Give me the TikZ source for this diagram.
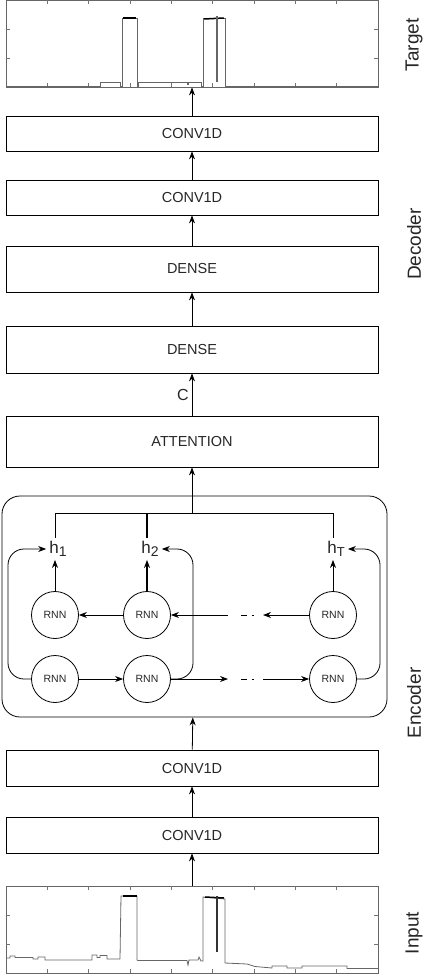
\documentclass[tikz,border=0pt]{standalone}
\usepackage{fontspec}
\setmainfont{Liberation Sans}
\usetikzlibrary{arrows.meta}
\begin{document}
\begin{tikzpicture}[x=1pt,y=-1pt,
  layer/.style={draw, line width=0.8pt, minimum width=372pt, inner sep=0pt, text=black!85, font=\fontsize{14.5}{16}\selectfont},
  plotbox/.style={draw=black!60, line width=0.8pt, minimum width=372pt, minimum height=87pt, inner sep=0pt},
  rnn/.style={draw, circle, line width=0.8pt, minimum size=47pt, inner sep=0pt, text=black!85, font=\fontsize{10.5}{12}\selectfont},
  hl/.style={inner sep=3pt, text=black!85, font=\fontsize{17}{18}\selectfont},
  arr/.style={-{Stealth[length=8pt,width=6pt]}, line width=0.8pt},
  side/.style={rotate=90, text=black!85, font=\fontsize{19}{20}\selectfont},
  tick/.style={draw=black!55, line width=0.6pt},
  sig/.style={draw=black!60, line width=0.8pt},
  pulsetop/.style={draw=black, line width=1.5pt}]
\useasboundingbox (0,0) rectangle (430,974);

% ---------- plots ----------
\node[plotbox] (tgt) at (192,43.5) {};
\node[plotbox] (inp) at (192,929.5) {};
\foreach \k in {1,...,8}{
  \draw[tick] ({6+41.33*\k},87) -- ++(0,-4);
  \draw[tick] ({6+41.33*\k},0) -- ++(0,4);
  \draw[tick] ({6+41.33*\k},973) -- ++(0,-4);
  \draw[tick] ({6+41.33*\k},886) -- ++(0,4);
}
\foreach \yy in {29,58}{
  \draw[tick] (6,\yy) -- ++(4,0);
  \draw[tick] (378,\yy) -- ++(-4,0);
}
\foreach \yy in {915,944}{
  \draw[tick] (6,\yy) -- ++(4,0);
  \draw[tick] (378,\yy) -- ++(-4,0);
}
% target signal
\draw[sig] (6,86.5) -- (100,86.5) -- (100,82) -- (120,82) -- (120,86.5) -- (122,86.5) -- (122,18.5) -- (137,18.5) -- (137,86.5) -- (138,86.5) -- (138,82) -- (187,82) -- (187,84) -- (188,84) -- (188,82) -- (201,82) -- (201,86.5) -- (203,86.5) -- (203,18) -- (225,18) -- (225,86.5) -- (378,86.5);
\draw[pulsetop] (123,18) -- (136,18);
\draw[pulsetop] (204,19) -- (224,18);
\draw[draw=black!60, line width=1.6pt] (217,16) -- (217,82);
% input signal
\draw[sig] (6,958) -- (10,958) -- (10,956) -- (15,956) -- (15,957.5) -- (33,957.5) -- (33,959) -- (38,959) -- (38,957) -- (45,957) -- (45,960) -- (92,960) -- (92,955) -- (97,955) -- (97,957.5) -- (100,957.5) -- (100,955.5) -- (107,955.5) -- (107,959) -- (120,959) -- (121,896) -- (137,896) -- (137,960) -- (138,960.5) -- (187,960.5) -- (188,965) -- (189,960) -- (198,960) -- (199,957) -- (201,961) -- (203,961) -- (203,897) -- (225,899) -- (225,963) -- (247,964) -- (255,966.5) -- (272,968) -- (272,966) -- (287,966) -- (287,968) -- (302,968) -- (302,966) -- (347,966) -- (347,968.5) -- (378,968.5);
\draw[pulsetop] (123,896) -- (137,896);
\draw[pulsetop] (205,897) -- (224,898);
\draw[draw=black!80, line width=1.6pt] (217,896) -- (217,952);

% ---------- decoder / encoder layers ----------
\node[layer, minimum height=35pt] (cd2) at (192,133.5) {CONV1D};
\node[layer, minimum height=35pt] (cd1) at (192,197.5) {CONV1D};
\node[layer, minimum height=46pt] (dn2) at (192,269) {DENSE};
\node[layer, minimum height=47pt] (dn1) at (192,349.5) {DENSE};
\node[layer, minimum height=51pt] (att) at (192,441.5) {ATTENTION};
\node[layer, minimum height=36pt] (ce2) at (192,768) {CONV1D};
\node[layer, minimum height=36pt] (ce1) at (192,835) {CONV1D};

\draw[arr] (cd2) -- (tgt);
\draw[arr] (cd1) -- (cd2);
\draw[arr] (dn2) -- (cd1);
\draw[arr] (dn1) -- (dn2);
\draw[arr] (att) -- node[left, inner sep=3pt, text=black!85, font=\fontsize{16}{17}\selectfont] {C} (dn1);

% ---------- encoder block ----------
\node[draw, line width=0.8pt, rounded corners=18pt, minimum width=385pt, minimum height=221pt] (enc) at (194.5,606.5) {};
\draw[arr] (inp) -- (ce1);
\draw[arr] (ce1) -- (ce2);
\draw[arr] (ce2) -- (enc);

\node[rnn] (r1t) at (55,615) {RNN};
\node[rnn] (r2t) at (147,615) {RNN};
\node[rnn] (rTt) at (333,615) {RNN};
\node[rnn] (r1b) at (55,679) {RNN};
\node[rnn] (r2b) at (147,679) {RNN};
\node[rnn] (rTb) at (333,679) {RNN};

\node[hl] (h1) at (58,549) {h\raisebox{-0.35ex}{\fontsize{14}{14}\selectfont 1}};
\node[hl] (h2) at (150,549) {h\raisebox{-0.35ex}{\fontsize{14}{14}\selectfont 2}};
\node[hl] (hT) at (336,549) {h\raisebox{-0.35ex}{\fontsize{13}{13}\selectfont T}};

\coordinate (bar) at (192,513);
\draw[line width=0.8pt] (r1t |- bar) -- (rTt |- bar);
\draw[line width=0.8pt] (r1t |- bar) -- (r1t |- h1.north);
\draw[line width=1.4pt] (r2t |- bar) -- (r2t |- h2.north);
\draw[line width=0.8pt] (rTt |- bar) -- (rTt |- hT.north);
\draw[arr] (bar) -- (att);

\draw[arr] (r1t) -- (r1t |- h1.south);
\draw[arr, line width=1.2pt] (r2t) -- (r2t |- h2.south);
\draw[arr] (rTt) -- (rTt |- hT.south);

% recurrent connections
\coordinate (dt1) at (228,615);
\coordinate (dt2) at (263,615);
\coordinate (db1) at (228,679);
\coordinate (db2) at (263,679);
\draw[arr] (r2t) -- (r1t);
\draw[arr] (dt1) -- (r2t);
\draw[arr] (rTt) -- (dt2);
\draw[arr] (r1b) -- (r2b);
\draw[arr] (r2b) -- (db1);
\draw[arr] (db2) -- (rTb);
\draw[line width=0.8pt, dash pattern=on 6pt off 5pt on 2pt off 20pt] (241,615) -- (254,615);
\draw[line width=0.8pt, dash pattern=on 6pt off 5pt on 2pt off 20pt] (241,679) -- (254,679);

% skip arrows from bottom row to outputs
\draw[arr, rounded corners=16pt] (r1b.west) -- (8,679) |- (h1.west);
\draw[arr, rounded corners=16pt] (r2b.east) -- (193,679) |- (h2.east);
\draw[arr, rounded corners=16pt] (rTb.east) -- (380,679) |- (hT.east);

% ---------- side labels ----------
\node[side] (lt) at (414,45) {Target};
\node[side] (ld) at (414,244) {Decoder};
\node[side] (le) at (414,703) {Encoder};
\node[side] (li) at (414,933) {Input};
\end{tikzpicture}
\end{document}
